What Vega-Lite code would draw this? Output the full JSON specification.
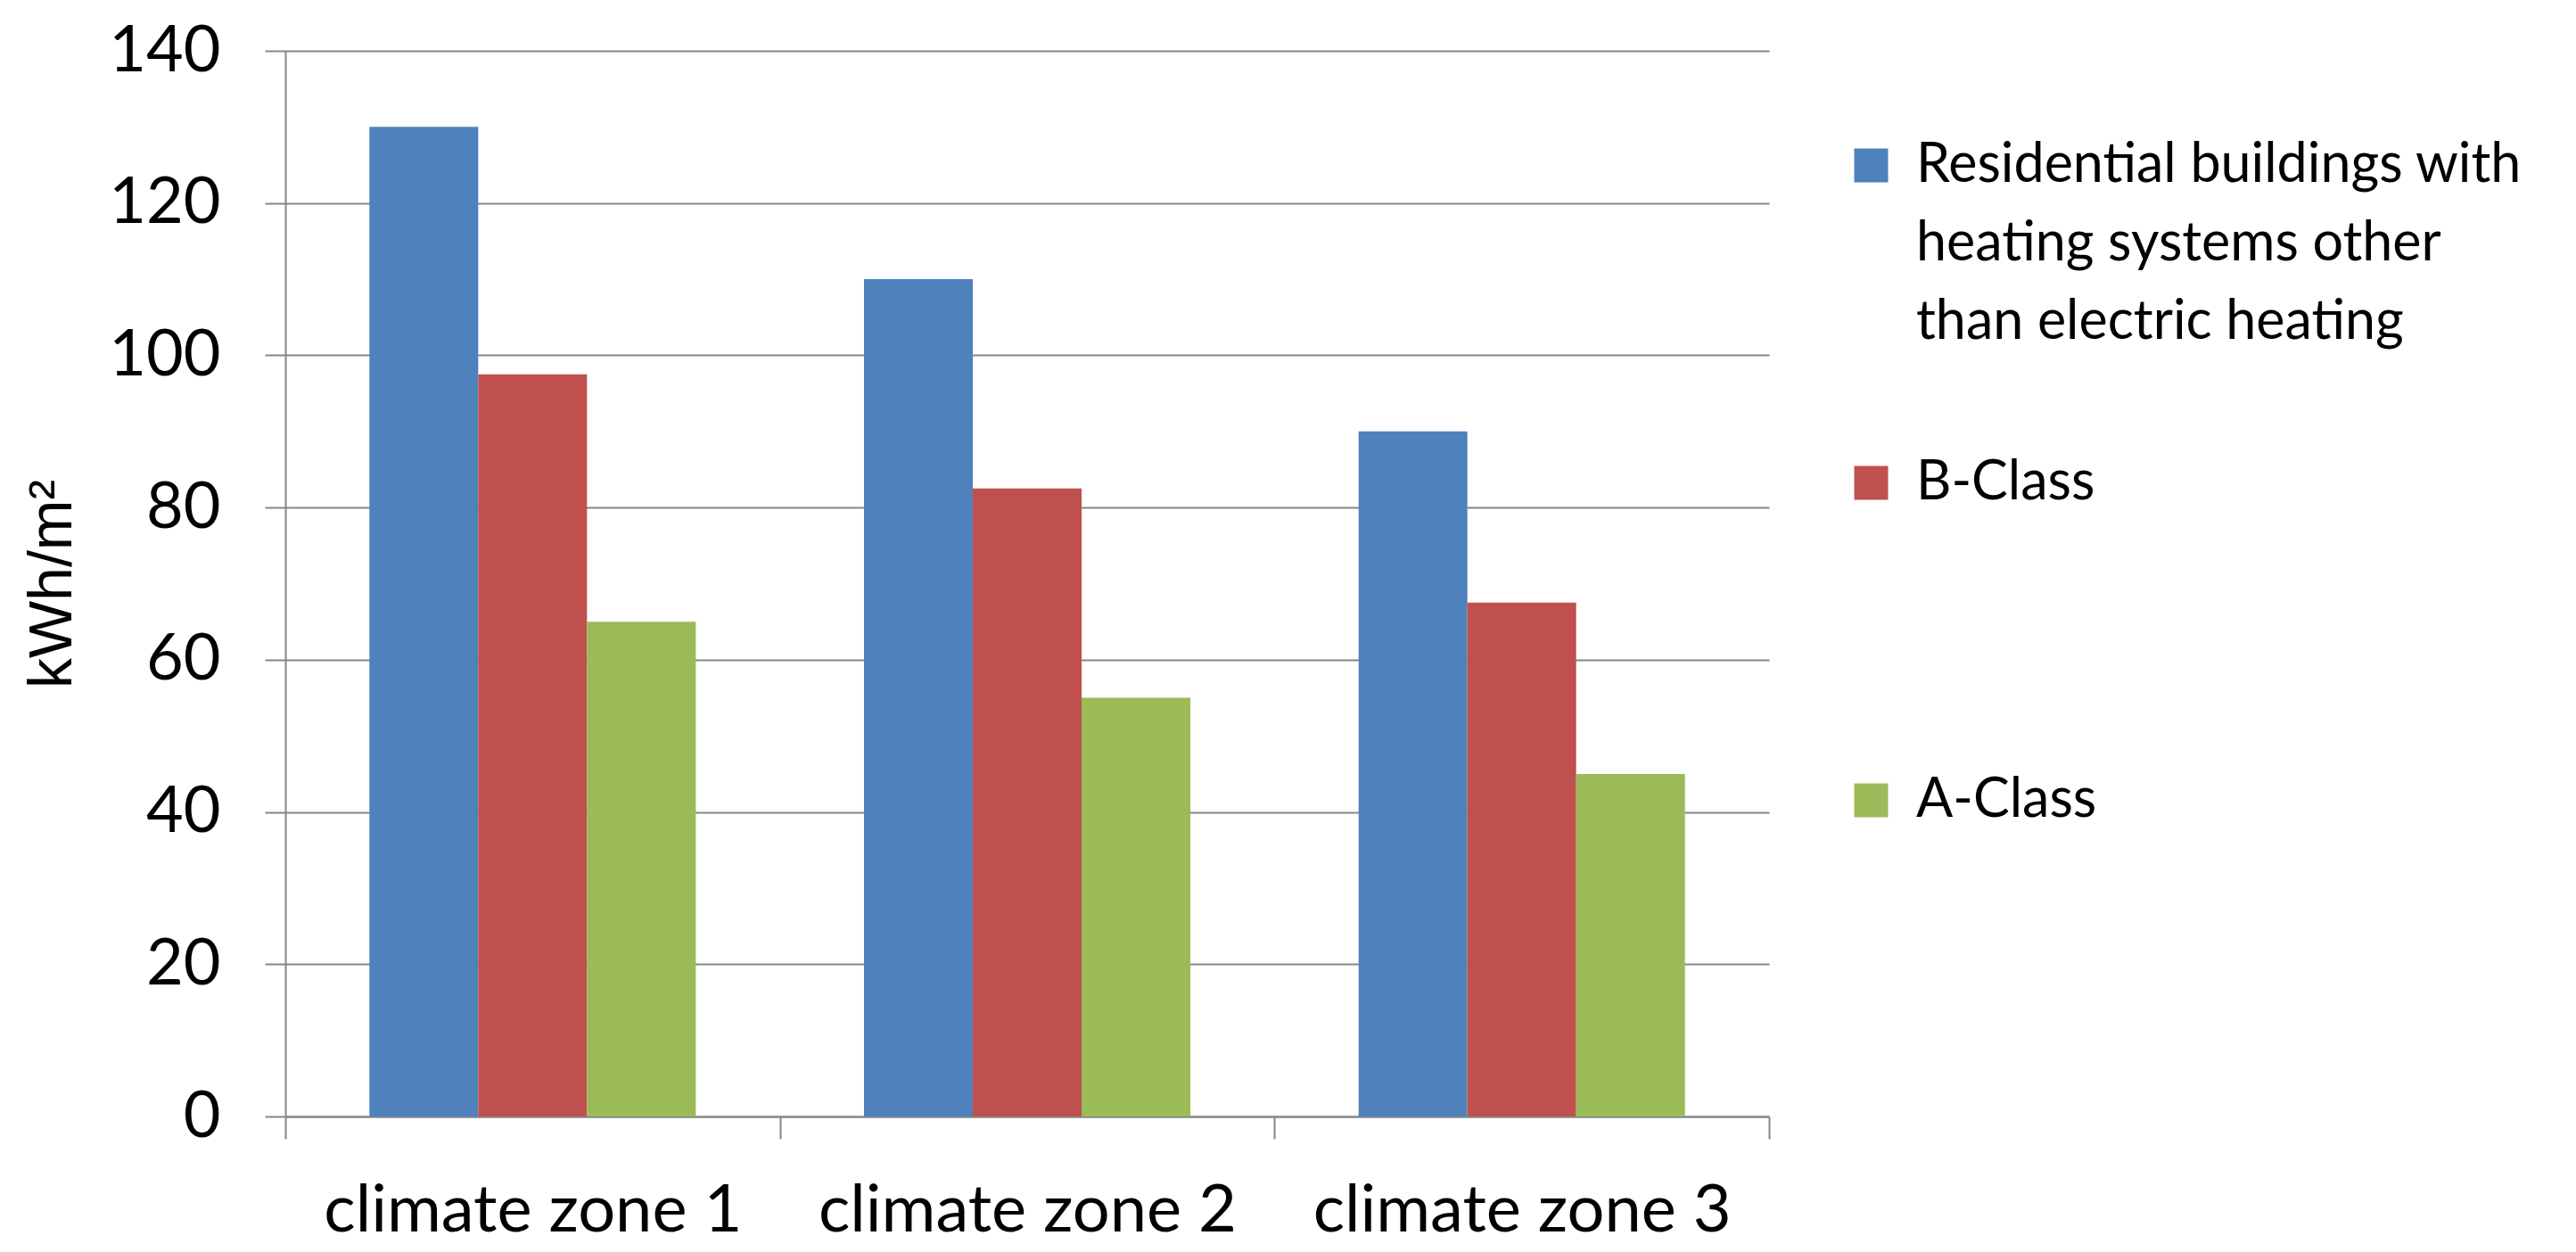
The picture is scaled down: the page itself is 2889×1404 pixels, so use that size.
{
  "$schema": "https://vega.github.io/schema/vega-lite/v6.json",
  "width": 1664,
  "height": 1195,
  "autosize": "none",
  "padding": {"left": 320, "top": 57, "right": 905, "bottom": 152},
  "background": "white",
  "data": {
    "values": [
      {"zone": "climate zone 1", "series": "Residential buildings with heating systems other than electric heating", "value": 130},
      {"zone": "climate zone 1", "series": "B-Class", "value": 97.5},
      {"zone": "climate zone 1", "series": "A-Class", "value": 65},
      {"zone": "climate zone 2", "series": "Residential buildings with heating systems other than electric heating", "value": 110},
      {"zone": "climate zone 2", "series": "B-Class", "value": 82.5},
      {"zone": "climate zone 2", "series": "A-Class", "value": 55},
      {"zone": "climate zone 3", "series": "Residential buildings with heating systems other than electric heating", "value": 90},
      {"zone": "climate zone 3", "series": "B-Class", "value": 67.5},
      {"zone": "climate zone 3", "series": "A-Class", "value": 45}
    ]
  },
  "mark": {"type": "bar"},
  "encoding": {
    "x": {
      "field": "zone",
      "type": "nominal",
      "sort": null,
      "title": null,
      "scale": {"paddingInner": 0, "paddingOuter": 0},
      "axis": {
        "labelAngle": 0,
        "labelFont": "Lato",
        "labelFontSize": 74,
        "labelColor": "black",
        "labelPadding": 45,
        "labelLimit": 1000,
        "tickBand": "extent",
        "tickSize": 25,
        "tickWidth": 2,
        "tickColor": "#868686",
        "domainColor": "#868686",
        "domainWidth": 2,
        "grid": false
      }
    },
    "xOffset": {
      "field": "series",
      "type": "nominal",
      "sort": ["Residential buildings with heating systems other than electric heating", "B-Class", "A-Class"],
      "scale": {"paddingInner": 0, "paddingOuter": 0.773}
    },
    "y": {
      "field": "value",
      "type": "quantitative",
      "title": "kWh/m²",
      "scale": {"domain": [0, 140], "nice": false},
      "axis": {
        "values": [0, 20, 40, 60, 80, 100, 120, 140],
        "labelFont": "Lato",
        "labelFontSize": 72,
        "labelColor": "black",
        "labelPadding": 50,
        "labelFlush": false,
        "tickSize": 23,
        "tickWidth": 2,
        "tickColor": "#868686",
        "domainColor": "#868686",
        "domainWidth": 2,
        "gridColor": "#868686",
        "gridWidth": 2,
        "titleFont": "Liberation Sans",
        "titleFontSize": 68,
        "titleFontWeight": "normal",
        "titleColor": "black",
        "titlePadding": 28
      }
    },
    "color": {
      "field": "series",
      "type": "nominal",
      "scale": {
        "domain": ["Residential buildings with heating systems other than electric heating", "B-Class", "A-Class"],
        "range": ["#4F81BD", "#C0504D", "#9BBB59"]
      },
      "legend": {
        "orient": "none",
        "legendX": 1748,
        "legendY": 98,
        "title": null,
        "padding": 0,
        "symbolType": "square",
        "symbolSize": 1444,
        "symbolStrokeWidth": 0,
        "symbolOpacity": 1,
        "labelFont": "Lato",
        "labelFontSize": 61,
        "labelColor": "black",
        "labelOffset": 20,
        "labelLimit": 1000,
        "labelBaseline": "middle",
        "rowPadding": 118,
        "labelExpr": "datum.label == 'B-Class' || datum.label == 'A-Class' ? [datum.label, '', ''] : ['Residential buildings with', 'heating systems other', 'than electric heating']",
        "encode": {"labels": {"update": {"lineHeight": {"value": 88}}}}
      }
    }
  },
  "config": {"view": {"stroke": null}}
}
